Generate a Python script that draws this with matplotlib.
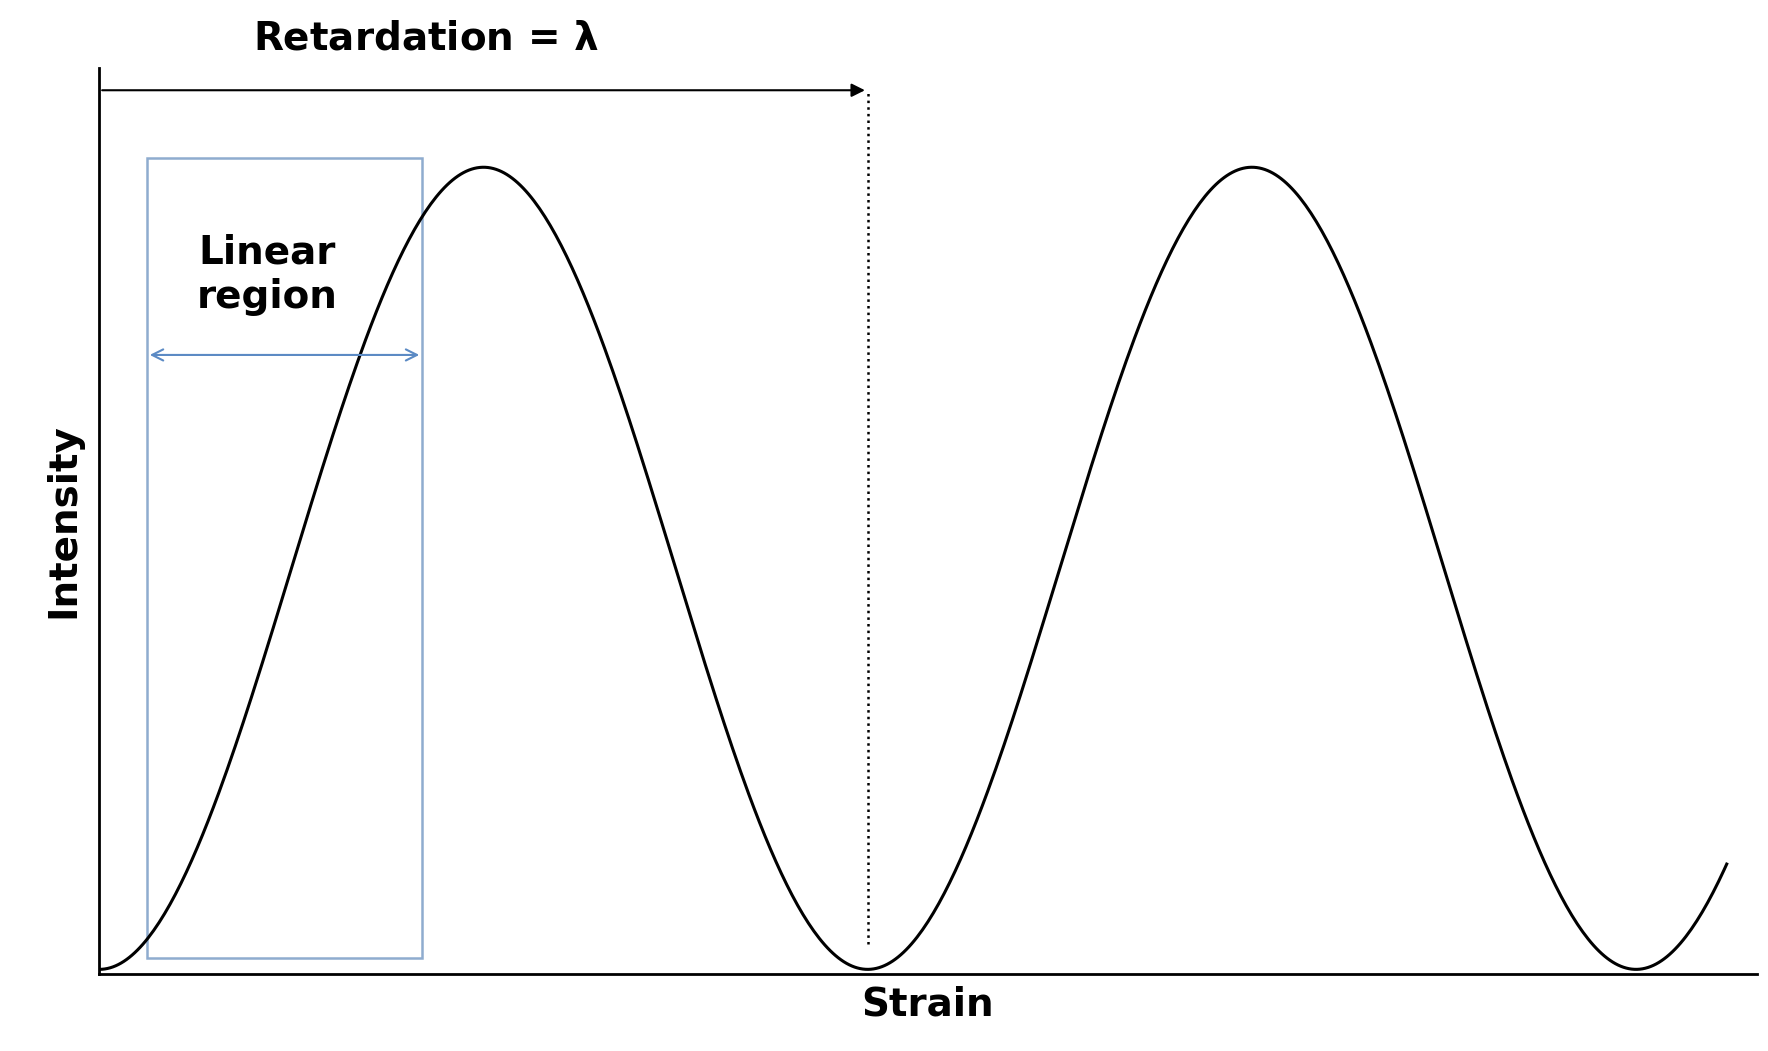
import numpy as np
import matplotlib.pyplot as plt

# Intensity through crossed polarisers vs strain, in units of the retardation lambda
wavelength = 1.0
strain = np.linspace(0, 2.118, 600)
intensity = (1 - np.cos(2 * np.pi * strain / wavelength)) / 2

linear_region = [0.062, 0.42]

fig = plt.figure(figsize=(17.68, 10.51), dpi=100)
ax = fig.add_axes([0.0562, 0.0731, 0.9374, 0.8624])
ax.plot(strain, intensity, color='black', lw=2.2)

ax.set_xlim(0, 2.157)
ax.set_ylim(-0.006, 1.124)
for s in ['top', 'right']:
    ax.spines[s].set_visible(False)
for s in ['left', 'bottom']:
    ax.spines[s].set_linewidth(2)
ax.set_xticks([])
ax.set_yticks([])
ax.set_xlabel('Strain', fontsize=28, fontweight='bold', labelpad=8)
ax.set_ylabel('Intensity', fontsize=28, fontweight='bold', labelpad=12)

# retardation arrow and dotted marker
ax.annotate('', xy=(wavelength, 1.096), xytext=(0, 1.096),
            arrowprops=dict(arrowstyle='-|>', color='black', lw=1.5, mutation_scale=20))
ax.plot([wavelength, wavelength], [0.032, 1.096], color='black', ls=':', lw=1.8)
ax.text(0.425, 1.16, 'Retardation = $\\boldsymbol{\\lambda}$', fontsize=28, fontweight='bold',
        ha='center', va='center', clip_on=False)

# linear region box
x0, x1 = linear_region
ax.add_patch(plt.Rectangle((x0, 0.014), x1 - x0, 0.997, fill=False,
                           edgecolor='#8faccf', lw=1.8))
ax.annotate('', xy=(x1, 0.766), xytext=(x0, 0.766),
            arrowprops=dict(arrowstyle='<->', color='#5b8ac4', lw=1.5, mutation_scale=20))
ax.text(0.218, 0.866, 'Linear\nregion', fontsize=28, fontweight='bold',
        ha='center', va='center', linespacing=1.2)

fig.savefig('out.png', dpi=100)
